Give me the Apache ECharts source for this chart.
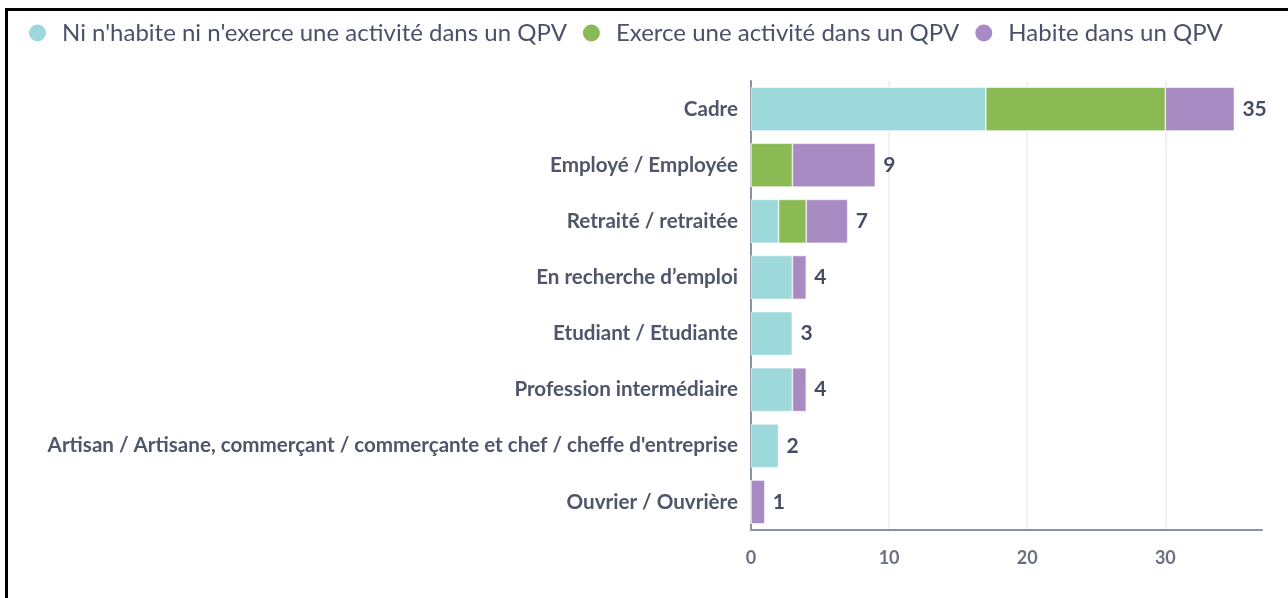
<!DOCTYPE html>
<html lang="fr">
<head>
  <meta charset="UTF-8">
  <title>Catégories socio-professionnelles</title>
  <style>
    html, body { margin: 0; padding: 0; background: #fff; overflow: hidden; }
    #frame {
      position: absolute;
      left: 5px;
      top: 8px;
      width: 1400px;
      height: 700px;
      border: 3px solid #000;
    }
    #chart {
      position: absolute;
      left: 0;
      top: 0;
      width: 1288px;
      height: 598px;
    }
  </style>
  <script src="https://cdn.jsdelivr.net/npm/echarts@6/dist/echarts.min.js"></script>
</head>
<body>
  <div id="frame"></div>
  <div id="chart"></div>
<script>
  // données
  var categories = [
    'Cadre',
    'Employé / Employée',
    'Retraité / retraitée',
    'En recherche d\u2019emploi',
    'Etudiant / Etudiante',
    'Profession intermédiaire',
    "Artisan / Artisane, commerçant / commerçante et chef / cheffe d'entreprise",
    'Ouvrier / Ouvrière'
  ];
  var seriesNames = ["Ni n'habite ni n'exerce une activité dans un QPV", 'Exerce une activité dans un QPV', 'Habite dans un QPV'];
  var niNi     = [17, 0, 2, 3, 3, 3, 2, 0];
  var exerce   = [13, 3, 2, 0, 0, 0, 0, 0];
  var habite   = [5, 6, 3, 1, 0, 1, 0, 1];
  var totals   = [35, 9, 7, 4, 3, 4, 2, 1];
  var xTicks   = [0, 10, 20, 30];

  var colors = ['#9dd9da', '#8aba54', '#a98bc3'];
  var textColor = '#4a5168';

  var myChart = echarts.init(document.getElementById('chart'));

  function barSeries(name, data, color) {
    return {
      name: name,
      type: 'bar',
      stack: 'total',
      barWidth: '78%',
      data: data,
      itemStyle: { color: color, borderColor: '#fff', borderWidth: 0.6 },
      emphasis: { disabled: true }
    };
  }

  var option = {
    animation: false,
    textStyle: { fontFamily: 'Lato' },
    legend: {
      top: 16,
      left: 22,
      icon: 'circle',
      itemWidth: 19,
      itemHeight: 19,
      itemGap: 14,
      textStyle: { fontFamily: 'Lato', fontSize: 24, color: textColor, padding: [0, 0, 0, 10] },
      data: seriesNames
    },
    grid: {
      left: 751,
      right: 26,
      top: 81,
      bottom: 68
    },
    xAxis: {
      type: 'value',
      min: 0,
      max: 37,
      interval: 10,
      axisLine: { show: true, lineStyle: { color: '#8b92a5', width: 2 } },
      axisTick: { show: false },
      axisLabel: {
        showMaxLabel: false,
        margin: 19,
        fontFamily: 'Lato',
        fontSize: 18,
        fontWeight: 'bold',
        color: '#6a7080',
        formatter: function (v) { return xTicks.indexOf(v) >= 0 ? String(v) : ''; }
      },
      splitLine: {
        show: true,
        lineStyle: { color: ['#ececee', '#ececee', '#ececee', '#ececee', 'rgba(0,0,0,0)'], width: 1.5 }
      }
    },
    yAxis: {
      type: 'category',
      inverse: true,
      data: categories,
      axisLine: { show: true, lineStyle: { color: '#8b92a5', width: 2 } },
      axisTick: { show: false },
      axisLabel: {
        margin: 13,
        fontFamily: 'Lato',
        fontSize: 20.6,
        fontWeight: 'bold',
        color: '#4f566a'
      }
    },
    series: [
      barSeries(seriesNames[0], niNi, colors[0]),
      barSeries(seriesNames[1], exerce, colors[1]),
      barSeries(seriesNames[2], habite, colors[2]),
      {
        name: 'total',
        type: 'bar',
        stack: 'total',
        barWidth: '78%',
        data: totals.map(function () { return 0; }),
        itemStyle: { color: 'rgba(0,0,0,0)' },
        label: {
          show: true,
          position: 'right',
          distance: 8,
          fontFamily: 'Lato',
          fontSize: 21,
          fontWeight: 'bold',
          color: '#454d66',
          formatter: function (p) { return totals[p.dataIndex]; }
        },
        emphasis: { disabled: true }
      }
    ]
  };

  myChart.setOption(option);
</script>
</body>
</html>
